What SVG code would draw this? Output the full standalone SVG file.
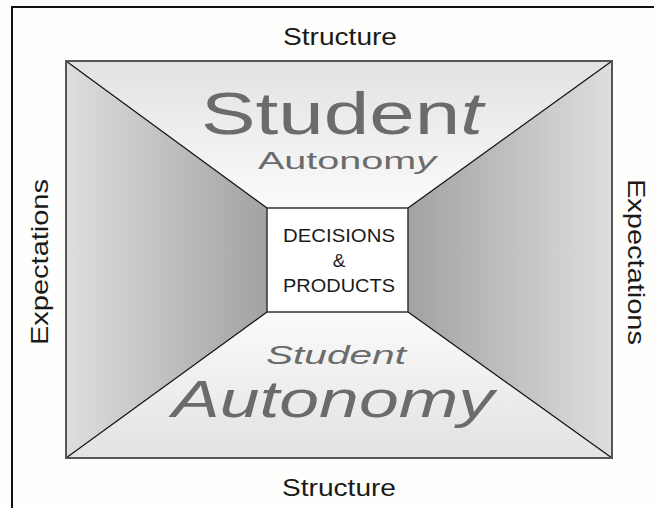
<svg xmlns="http://www.w3.org/2000/svg" width="654" height="508" viewBox="0 0 654 508">
<style>
.lbl{font-family:"Liberation Sans",Arial,sans-serif;fill:#1a1a1a;font-size:24px;text-anchor:middle}
.big{font-family:"Liberation Sans",Arial,sans-serif;fill:#6b6b6b;text-anchor:middle}
.ctr{font-family:"Liberation Sans",Arial,sans-serif;fill:#1a1a1a;font-size:19px;text-anchor:middle}
.diag{stroke:#111;stroke-width:1.2;fill:none}
</style>
<defs>
<linearGradient id="gTop" x1="0" y1="0" x2="0" y2="1">
<stop offset="0" stop-color="#e2e2e2"/><stop offset="1" stop-color="#fbfbfb"/>
</linearGradient>
<linearGradient id="gBot" x1="0" y1="0" x2="0" y2="1">
<stop offset="0" stop-color="#fbfbfb"/><stop offset="1" stop-color="#e2e2e2"/>
</linearGradient>
<linearGradient id="gLeft" x1="0" y1="0" x2="1" y2="0">
<stop offset="0" stop-color="#dedede"/><stop offset="1" stop-color="#a2a2a2"/>
</linearGradient>
<linearGradient id="gRight" x1="0" y1="0" x2="1" y2="0">
<stop offset="0" stop-color="#a2a2a2"/><stop offset="1" stop-color="#dedede"/>
</linearGradient>
</defs>
<rect width="654" height="508" fill="#fefefc"/>
<path d="M12 508 V7 H654" fill="none" stroke="#111" stroke-width="2"/>
<g id="top-panel"><polygon points="66,61 612,61 408,208 267,208" fill="url(#gTop)"/></g>
<g id="bottom-panel"><polygon points="267,312 408,312 612,458 66,458" fill="url(#gBot)"/></g>
<g id="left-panel"><polygon points="66,61 267,208 267,312 66,458" fill="url(#gLeft)"/></g>
<g id="right-panel"><polygon points="408,208 612,61 612,458 408,312" fill="url(#gRight)"/></g>
<g id="connectors">
<line class="diag" x1="66" y1="61" x2="267" y2="208"/>
<line class="diag" x1="612" y1="61" x2="408" y2="208"/>
<line class="diag" x1="66" y1="458" x2="267" y2="312"/>
<line class="diag" x1="612" y1="458" x2="408" y2="312"/>
</g>
<rect x="66" y="61" width="546" height="397" fill="none" stroke="#555" stroke-width="2"/>
<g id="center-box">
<rect x="267" y="208" width="141" height="104" fill="#fff" stroke="#333" stroke-width="1.5"/>
<text class="ctr" x="339" y="242" textLength="112" lengthAdjust="spacingAndGlyphs">DECISIONS</text>
<text class="ctr" x="339" y="267">&amp;</text>
<text class="ctr" x="339" y="292" textLength="112" lengthAdjust="spacingAndGlyphs">PRODUCTS</text>
</g>
<g id="top-text">
<text class="big" x="342" y="134" font-size="60" textLength="282" lengthAdjust="spacingAndGlyphs">Studen<tspan font-style="italic">t</tspan></text>
<text class="big" x="347" y="169" font-size="24" textLength="178" lengthAdjust="spacingAndGlyphs">Autonom<tspan font-style="italic">y</tspan></text>
</g>
<g id="bottom-text">
<text class="big" x="336" y="364" font-size="26" font-style="italic" textLength="140" lengthAdjust="spacingAndGlyphs">Student</text>
<text class="big" x="333" y="417" font-size="52" font-style="italic" textLength="322" lengthAdjust="spacingAndGlyphs">Autonomy</text>
</g>
<g id="labels">
<text class="lbl" x="340" y="45" textLength="114" lengthAdjust="spacingAndGlyphs">Structure</text>
<text class="lbl" x="339" y="496" textLength="114" lengthAdjust="spacingAndGlyphs">Structure</text>
<text class="lbl" transform="translate(48,262) rotate(-90)" textLength="166" lengthAdjust="spacingAndGlyphs">Expectations</text>
<text class="lbl" transform="translate(628,262) rotate(90)" textLength="166" lengthAdjust="spacingAndGlyphs">Expectations</text>
</g>
</svg>
